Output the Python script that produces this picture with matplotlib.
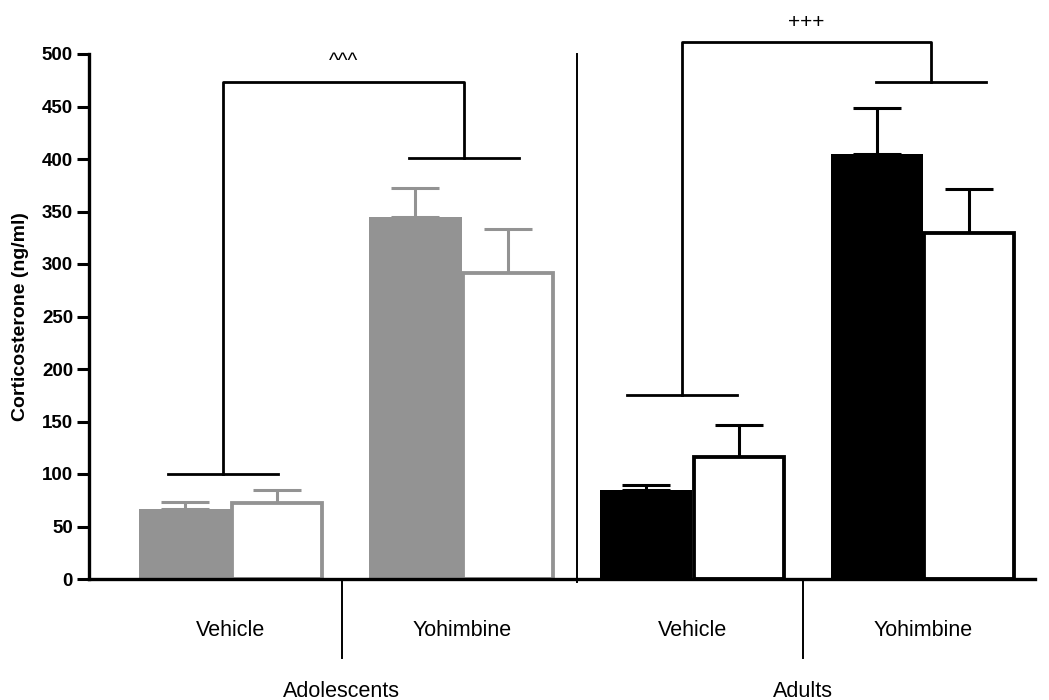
import matplotlib
matplotlib.use("Agg")
import matplotlib.pyplot as plt
from matplotlib import font_manager

# Corticosterone (ng/ml), mean and SEM
groups = ["Vehicle", "Yohimbine", "Vehicle", "Yohimbine"]
ages = ["Adolescents", "Adults"]
filled_mean = [67, 345, 85, 405]
filled_sem = [6, 27, 5, 44]
open_mean = [72, 291, 116, 330]
open_sem = [13, 42, 31, 41]
filled_colors = ["#939393", "#939393", "#000000", "#000000"]
open_edges = ["#939393", "#939393", "#000000", "#000000"]
y_ticks = [0, 50, 100, 150, 200, 250, 300, 350, 400, 450, 500]

names = {f.name for f in font_manager.fontManager.ttflist}
base_font = "Liberation Sans" if "Liberation Sans" in names else "DejaVu Sans"
plt.rcParams["font.family"] = [base_font, "DejaVu Sans"]

fig = plt.figure(figsize=(10.49, 7.0), dpi=100)
ax = fig.add_axes([89 / 1049, 1 - 579 / 700, (1035 - 89) / 1049, (579 - 54) / 700])

x = list(range(len(groups)))
w = 0.4
lw = 2.2
cap = 17

for i in x:
    ax.bar(i - w / 2, filled_mean[i], width=w, color=filled_colors[i],
           edgecolor=filled_colors[i], linewidth=0, zorder=2)
    ax.errorbar(i - w / 2, filled_mean[i], yerr=[[0], [filled_sem[i]]],
                color=filled_colors[i], elinewidth=lw, capsize=cap,
                capthick=lw, zorder=1)
    ax.bar(i + w / 2, open_mean[i], width=w - 0.01, color="white",
           edgecolor=open_edges[i], linewidth=lw * 1.25, zorder=2)
    ax.errorbar(i + w / 2, open_mean[i], yerr=[[0], [open_sem[i]]],
                color=open_edges[i], elinewidth=lw, capsize=cap,
                capthick=lw, zorder=1)

ax.set_xlim(-0.615, 3.485)
ax.set_ylim(0, 500)
ax.set_yticks(y_ticks)
ax.set_yticklabels([str(t) for t in y_ticks], fontsize=13.5, fontweight="bold")
ax.set_xticks([])
ax.set_ylabel("Corticosterone (ng/ml)", fontsize=14, fontweight="bold", labelpad=9)
ax.tick_params(axis="y", length=8.5, width=2.2, pad=3)
for s in ["top", "right"]:
    ax.spines[s].set_visible(False)
for s in ["left", "bottom"]:
    ax.spines[s].set_linewidth(2.4)

# Age-group separator
ax.plot([1.5, 1.5], [500, -3], color="black", lw=1.4, clip_on=False)

# Group labels and dividers under the axis
for i, g in enumerate(groups):
    ax.text(i, -49, g, ha="center", va="center", fontsize=15.5)
for xd in (0.48, 2.48):
    ax.plot([xd, xd], [0, -75], color="black", lw=1.4, clip_on=False)
for xd, a in zip((0.48, 2.48), ages):
    ax.text(xd, -107, a, ha="center", va="center", fontsize=15.5)

# Significance brackets
def bracket(x0, x1, y0, y1, ytop, half, label, ylab):
    ax.plot([x0 - half, x0 + half], [y0, y0], color="black", lw=2.0, clip_on=False)
    ax.plot([x1 - half, x1 + half], [y1, y1], color="black", lw=2.0, clip_on=False)
    ax.plot([x0, x0, x1, x1], [y0, ytop, ytop, y1], color="black", lw=2.0,
            clip_on=False)
    ax.text((x0 + x1) / 2, ylab, label, ha="center", va="center", fontsize=15,
            clip_on=False)

bracket(-0.035, 1.01, 100, 401, 473, 0.237, "^^^", 493)
bracket(1.955, 3.035, 175, 473, 511, 0.237, "+++", 530)

fig.savefig("out.png", dpi=100)
